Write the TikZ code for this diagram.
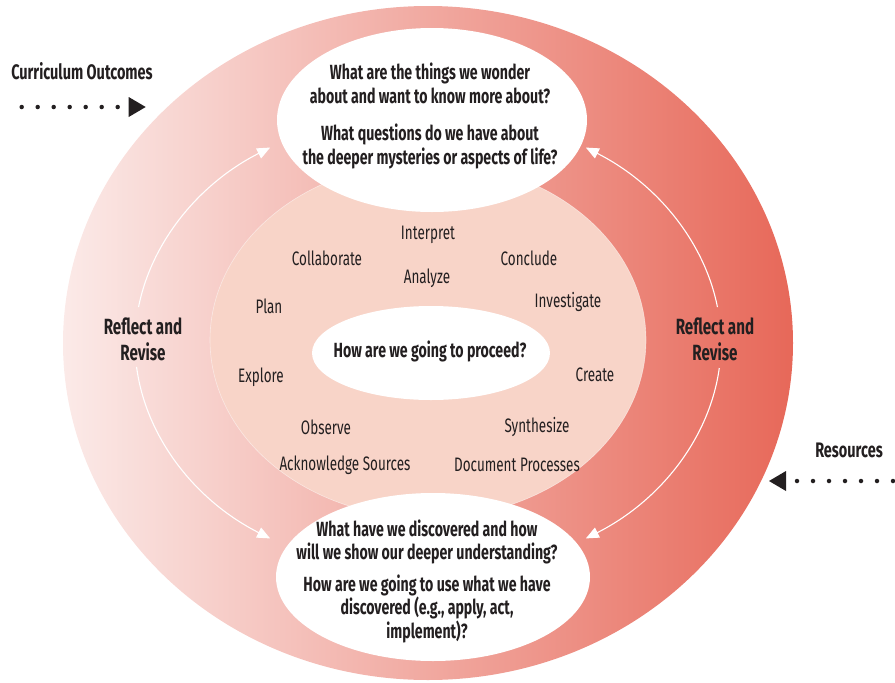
\documentclass[tikz,border=0pt]{standalone}
\usepackage{fontspec}
\setmainfont{Fira Sans}[FakeStretch=0.69]
\usetikzlibrary{arrows.meta}

\definecolor{ringlight}{RGB}{251,234,232}
\definecolor{ringdark}{RGB}{231,104,89}
\definecolor{peach}{RGB}{248,212,200}
\definecolor{ink}{RGB}{35,31,32}

\tikzset{
  question/.style={align=center, text=ink, font=\bfseries\fontsize{20.5}{23.5}\selectfont},
  activity/.style={text=ink, font=\fontsize{19.5}{22}\selectfont},
  sidelabel/.style={align=center, text=ink, font=\bfseries\fontsize{22}{26}\selectfont},
  inputlabel/.style={text=ink, font=\bfseries\fontsize{21}{24}\selectfont},
  reflectarrow/.style={white, line width=1.1pt, -{Triangle[length=13pt,width=11pt]}},
  dotarrow/.style={ink, line width=4.5pt, line cap=round, dash pattern=on 0pt off 16pt,
    -{Triangle[length=17pt,width=20pt,line width=0pt]}}
}

\begin{document}
\begin{tikzpicture}[x=1pt, y=-1pt]
  \useasboundingbox (0,0) rectangle (895,683);
  % Outer ring
  \shade[left color=ringlight, right color=ringdark] (428,343) ellipse [x radius=365, y radius=337];
  % Inner field
  \fill[peach] (428,340) ellipse [x radius=218, y radius=178];
  \draw[white, opacity=0.5, line width=0.6pt] (428,340) ellipse [x radius=218, y radius=178];
  % Question ellipses
  \fill[white] (432,120) ellipse [x radius=155, y radius=92];
  \fill[white] (433,577) ellipse [x radius=157, y radius=84];
  \fill[white] (431,353) ellipse [x radius=119, y radius=47];

  % Questions
  \node[question] (topq) at (430,116) {What are the things we wonder\\about and want to know more about?\\[14pt]What questions do we have about\\the deeper mysteries or aspects of life?};
  \node[question] (midq) at (430,351) {How are we going to proceed?};
  \node[question] (botq) at (427,581) {What have we discovered and how\\will we show our deeper understanding?\\[8pt]How are we going to use what we have\\discovered (e.g., apply, act,\\implement)?};

  % Activities
  \foreach \x/\y/\n/\w in {428/235/interp/Interpret, 327/258/collab/Collaborate, 529/258/concl/Conclude,
      427/278/analyze/Analyze, 269/306/plan/Plan, 568/302/invest/Investigate,
      261/377/explore/Explore, 595/375/create/Create, 326/427/observe/Observe,
      537/427/synth/Synthesize, 345/465/ack/Acknowledge Sources, 517/465/doc/Document Processes} {
      \node[activity] (\n) at (\x,\y) {\w};
  }

  % Reflect and revise
  \node[sidelabel] (rleft) at (143,339) {Reflect and\\Revise};
  \node[sidelabel] (rright) at (715,339) {Reflect and\\Revise};
  \foreach \n/\a/\b in {lt/188.9/237.4, lb/174.1/122.6, rt/351.1/302.6, rb/6.2/57.4} {
      \coordinate (\n) at ({428+293*cos(\a)},{343+232*sin(\a)});
      \draw[reflectarrow] (\n) arc[start angle=\a, end angle=\b, x radius=293, y radius=232];
  }

  % Inputs
  \node[inputlabel] (outcomes) at (82,71) {Curriculum Outcomes};
  \coordinate (os) at (21.7,107);
  \coordinate (oe) at (145.7,107);
  \draw[dotarrow] (os) -- (oe);
  \node[inputlabel] (resources) at (849,450) {Resources};
  \coordinate (rs) at (893,481);
  \coordinate (re) at (769,481);
  \draw[dotarrow] (rs) -- (re);
\end{tikzpicture}
\end{document}
